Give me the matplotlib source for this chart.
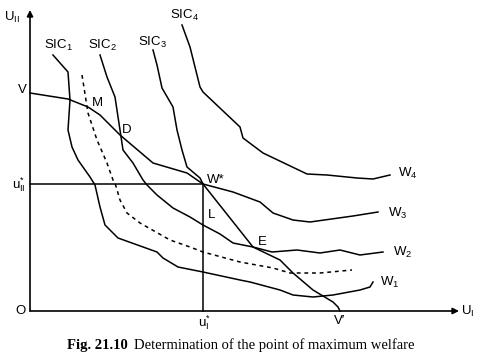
import matplotlib
matplotlib.use("Agg")
import matplotlib.pyplot as plt

plt.rcParams['font.family'] = ['Liberation Sans', 'DejaVu Sans']
plt.rcParams['mathtext.fontset'] = 'custom'
plt.rcParams['mathtext.rm'] = 'Liberation Sans'
plt.rcParams['mathtext.it'] = 'Liberation Sans'

# Curves (origin at O)
sic1_x = [23, 38, 40, 38, 42, 48, 60, 65, 70, 75, 88, 127, 133, 148, 173, 210, 220, 250, 263, 283, 303, 330, 340, 343]
sic1_y = [256, 239, 211, 181, 164, 151, 134, 126, 104, 86, 73, 59, 53, 44, 39, 31, 29, 21, 16, 14, 16, 21, 24, 29]

sic2_x = [70, 77, 85, 90, 93, 103, 113, 117, 127, 143, 160, 173, 190, 203, 223, 242, 267, 290, 310, 330, 353]
sic2_y = [256, 234, 214, 181, 161, 148, 131, 126, 116, 103, 94, 86, 77, 68, 64, 59, 61, 58, 61, 56, 59]

dash_x = [52, 58, 67, 77, 83, 85, 90, 97, 110, 140, 160, 173, 210, 243, 260, 270, 290, 322]
dash_y = [236, 198, 171, 148, 131, 128, 111, 98, 88, 71, 64, 59, 49, 43, 38, 38, 38, 41]

sic3_x = [123, 127, 132, 143, 147, 152, 157, 170, 173, 203, 230, 243, 263, 280, 323, 348]
sic3_y = [261, 246, 223, 204, 181, 161, 144, 133, 127, 119, 109, 98, 91, 89, 95, 99]

sic4_x = [152, 160, 170, 173, 210, 213, 233, 277, 297, 327, 343, 360]
sic4_y = [286, 264, 224, 219, 184, 173, 158, 137, 136, 133, 132, 136]

# utility possibility frontier V-V'
vv_x = [0, 38, 58, 70, 90, 123, 157, 173, 223, 250, 263, 283, 303, 308, 310]
vv_y = [218, 212, 204, 196, 176, 148, 138, 127, 64, 51, 38, 21, 9, 4, 0]

w_star = (173, 127)

fig = plt.figure(figsize=(4.8, 3.63), dpi=100)
ax = fig.add_axes([0, 0, 1, 1])
ax.set_xlim(-30, 450)
ax.set_ylim(-52, 311)
ax.axis('off')

lw = 1.1
for xs, ys in [(sic1_x, sic1_y), (sic2_x, sic2_y), (sic3_x, sic3_y), (sic4_x, sic4_y), (vv_x, vv_y)]:
    ax.plot(xs, ys, color='black', lw=lw)
ax.plot(dash_x, dash_y, color='black', lw=lw, linestyle=(0, (2.5, 2.5)))

# axes with arrows
arrow = dict(arrowstyle='-|>', lw=1.2, color='black', mutation_scale=9, shrinkA=0, shrinkB=0)
ax.annotate('', xy=(0, 301), xytext=(0, 0), arrowprops=arrow)
ax.annotate('', xy=(429, 0), xytext=(0, 0), arrowprops=arrow)

# guide lines to W*
ax.plot([0, w_star[0]], [w_star[1], w_star[1]], color='black', lw=lw)
ax.plot([w_star[0], w_star[0]], [0, w_star[1]], color='black', lw=lw)

fs = 9.5
ax.text(-18, 294, r'$\mathregular{U_{II}}$', fontsize=fs, ha='center', va='center')
ax.text(438, 0, r'$\mathregular{U_{I}}$', fontsize=fs, ha='center', va='center')
ax.text(-10, 0, 'O', fontsize=fs, ha='center', va='center')
ax.text(-8, 221, 'V', fontsize=fs, ha='center', va='center')
ax.text(310, -10, "V\u2032", fontsize=fs, ha='center', va='center')
ax.text(-4, 126, r'$\mathregular{u^{*}_{II}}$', fontsize=fs, ha='right', va='center')
ax.text(174, -12, r'$\mathregular{u^{*}_{I}}$', fontsize=fs, ha='center', va='center')

ax.text(28, 266, r'$\mathregular{SIC_1}$', fontsize=fs, ha='center', va='center')
ax.text(72, 266, r'$\mathregular{SIC_2}$', fontsize=fs, ha='center', va='center')
ax.text(122, 269, r'$\mathregular{SIC_3}$', fontsize=fs, ha='center', va='center')
ax.text(155, 296, r'$\mathregular{SIC_4}$', fontsize=fs, ha='center', va='center')

ax.text(67, 208, 'M', fontsize=fs, ha='center', va='center')
ax.text(97, 181, 'D', fontsize=fs, ha='center', va='center')
ax.text(177, 131, 'W*', fontsize=fs, ha='left', va='center')
ax.text(182, 96, 'L', fontsize=fs, ha='center', va='center')
ax.text(232, 69, 'E', fontsize=fs, ha='center', va='center')

ax.text(368, 138, r'$\mathregular{W_4}$', fontsize=fs, ha='left', va='center')
ax.text(358, 98, r'$\mathregular{W_3}$', fontsize=fs, ha='left', va='center')
ax.text(363, 59, r'$\mathregular{W_2}$', fontsize=fs, ha='left', va='center')
ax.text(350, 29, r'$\mathregular{W_1}$', fontsize=fs, ha='left', va='center')

fig.text(67 / 480, 1 - 345 / 363, 'Fig. 21.10', fontsize=10.5, fontweight='bold',
         family='Liberation Serif', ha='left', va='center')
fig.text(134 / 480, 1 - 345 / 363, 'Determination of the point of maximum welfare', fontsize=10.5,
         family='Liberation Serif', ha='left', va='center')

fig.savefig('out.png', dpi=100)
